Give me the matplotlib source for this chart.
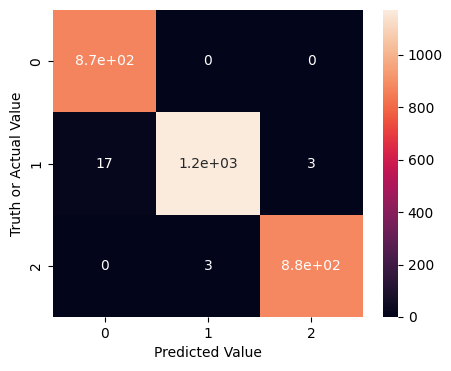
import numpy as np
import matplotlib
matplotlib.use('Agg')
import matplotlib.pyplot as plt
import seaborn as sns

# confusion matrix values
labels = [0, 1, 2]
row0 = [870, 0, 0]
row1 = [17, 1170, 3]
row2 = [0, 3, 880]
cm = np.array([row0, row1, row2])

fig = plt.figure(figsize=(4.52, 3.71), dpi=100)
ax = fig.add_axes([53/452, 1 - 317/371, 310/452, 307/371])
cax = fig.add_axes([383/452, 1 - 317/371, 15/452, 307/371])
sns.heatmap(cm, annot=True, ax=ax, cbar_ax=cax,
            xticklabels=labels, yticklabels=labels)
ax.set_xlabel('Predicted Value')
ax.set_ylabel('Truth or Actual Value')
fig.savefig('out.png', dpi=100)
